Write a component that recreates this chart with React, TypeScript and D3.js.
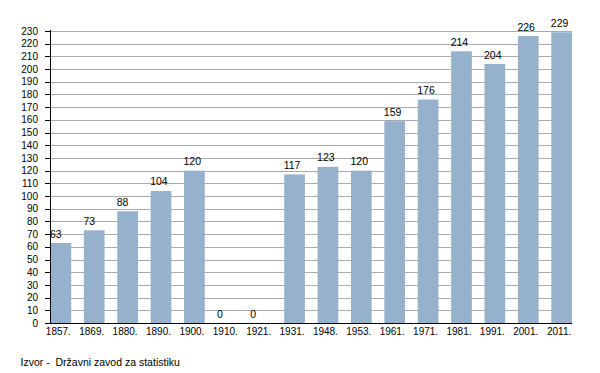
import React, { useRef, useEffect } from 'react';
import * as d3 from 'd3';

const years = ['1857.', '1869.', '1880.', '1890.', '1900.', '1910.', '1921.', '1931.', '1948.', '1953.', '1961.', '1971.', '1981.', '1991.', '2001.', '2011.'];
const population = [63, 73, 88, 104, 120, 0, 0, 117, 123, 120, 159, 176, 214, 204, 226, 229];
const yTicks = d3.range(0, 231, 10);
const sourceNote = 'Izvor -  Državni zavod za statistiku';

export default function App() {
  const svgRef = useRef<SVGSVGElement>(null);

  useEffect(() => {
    const width = 600;
    const height = 373;
    const svg = d3.select(svgRef.current);
    svg.selectAll('*').remove();
    svg.attr('width', width).attr('height', height);

    const font = '"Liberation Sans", Arial, sans-serif';
    const left = 50.5;
    const right = 572;
    const top = 31;
    const bottom = 323;

    const x = d3.scaleBand<string>()
      .domain(years)
      .range([left, right])
      .paddingInner(0.38)
      .paddingOuter(0);

    const y = d3.scaleLinear()
      .domain([0, 230])
      .range([bottom, top]);

    // Grid
    svg.append('g')
      .selectAll('line')
      .data(yTicks.filter(d => d > 0))
      .enter()
      .append('line')
      .attr('x1', left)
      .attr('x2', right)
      .attr('y1', d => Math.round(y(d)) + 0.5)
      .attr('y2', d => Math.round(y(d)) + 0.5)
      .attr('stroke', '#aaaaaa')
      .attr('stroke-width', 1);

    // Bars
    svg.append('g')
      .selectAll('rect')
      .data(population)
      .enter()
      .append('rect')
      .attr('x', (d, i) => x(years[i]) as number)
      .attr('width', x.bandwidth())
      .attr('y', d => y(d))
      .attr('height', d => bottom - y(d))
      .attr('fill', '#96b1cc');

    // Value labels
    svg.append('g')
      .selectAll('text')
      .data(population)
      .enter()
      .append('text')
      .attr('x', (d, i) => (x(years[i]) as number) - 0.5)
      .attr('y', d => y(d) - 5.5)
      .attr('font-family', font)
      .attr('font-size', 10.5)
      .attr('fill', '#000')
      .text(d => d);

    // Y axis
    const yAxis = svg.append('g');
    yAxis.append('line')
      .attr('x1', left).attr('x2', left)
      .attr('y1', top - 1).attr('y2', bottom)
      .attr('stroke', '#000');
    yAxis.selectAll('line.tick')
      .data(yTicks)
      .enter()
      .append('line')
      .attr('class', 'tick')
      .attr('x1', 45)
      .attr('x2', left)
      .attr('y1', d => Math.round(y(d)) + 0.5)
      .attr('y2', d => Math.round(y(d)) + 0.5)
      .attr('stroke', '#000');
    yAxis.selectAll('text')
      .data(yTicks)
      .enter()
      .append('text')
      .attr('x', 38)
      .attr('y', d => y(d) + 3.6)
      .attr('text-anchor', 'end')
      .attr('font-family', font)
      .attr('font-size', 10)
      .attr('fill', '#000')
      .text(d => d);

    // X axis
    const xAxis = svg.append('g');
    xAxis.append('line')
      .attr('x1', left - 0.5).attr('x2', right)
      .attr('y1', bottom + 0.5).attr('y2', bottom + 0.5)
      .attr('stroke', '#000');
    xAxis.selectAll('text')
      .data(years)
      .enter()
      .append('text')
      .attr('x', d => (x(d) as number) + x.bandwidth() / 2 - 2.5)
      .attr('y', 335)
      .attr('text-anchor', 'middle')
      .attr('font-family', font)
      .attr('font-size', 10)
      .attr('fill', '#000')
      .text(d => d);

    // Source
    svg.append('text')
      .attr('x', 20.5)
      .attr('y', 366)
      .attr('font-family', font)
      .attr('font-size', 10.5)
      .attr('fill', '#000')
      .style('white-space', 'pre')
      .text(sourceNote);
  }, []);

  return (
    <div style={{ position: 'absolute', left: 0, top: 0 }}>
      <svg ref={svgRef} style={{ display: 'block', background: '#fff' }} />
    </div>
  );
}
